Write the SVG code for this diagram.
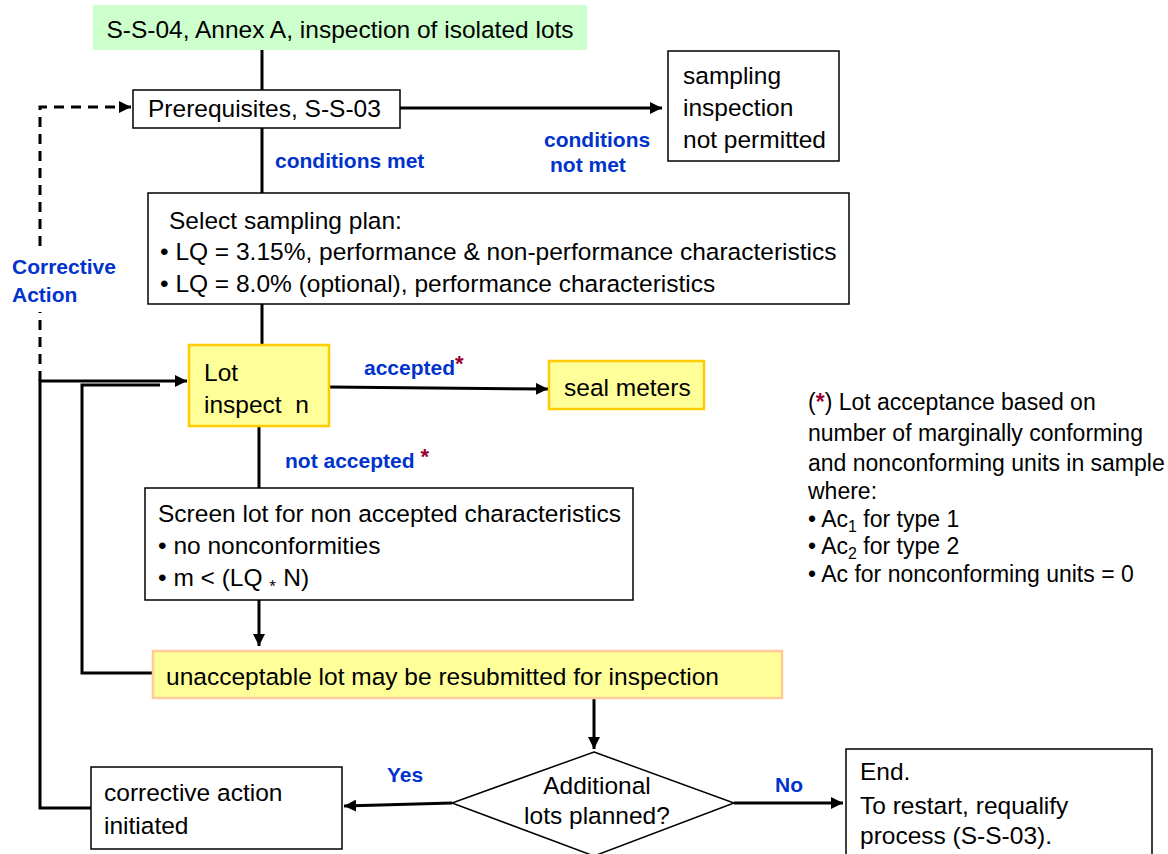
<svg xmlns="http://www.w3.org/2000/svg" width="1168" height="854" viewBox="0 0 1168 854">
<style>
text{font-family:"Liberation Sans",Arial,sans-serif;fill:#000}
.t{font-size:24.5px}
.n{font-size:23px}
.lb{font-size:21px;font-weight:bold;fill:#0033CC}
.red{fill:#990033;font-weight:bold}
.box{fill:#fff;stroke:#000;stroke-width:1.5}
.yel{fill:#FFFF99;stroke:#FFCC00;stroke-width:2.5}
.ln{fill:none;stroke:#000;stroke-width:3}
.ds{fill:none;stroke:#000;stroke-width:3;stroke-dasharray:10,7}
</style>
<defs>
<marker id="ah" viewBox="0 0 10 10" refX="10" refY="5" markerWidth="4" markerHeight="4" orient="auto" markerUnits="strokeWidth">
<path d="M0,0 L10,5 L0,10 z" fill="#000"/>
</marker>
</defs>
<rect width="1168" height="854" fill="#fff"/>

<g id="connectors">
<path class="ln" d="M262,50 V91"/>
<path class="ln" d="M400,108 H662" marker-end="url(#ah)"/>
<path class="ln" d="M262,128 V194"/>
<path class="ln" d="M262,304 V346"/>
<path class="ln" d="M329,387 L548,389" marker-end="url(#ah)"/>
<path class="ln" d="M259,426 V489"/>
<path class="ln" d="M259,600 V646" marker-end="url(#ah)"/>
<path class="ln" d="M594,698 V749" marker-end="url(#ah)"/>
<path class="ln" d="M452,803 L344,806" marker-end="url(#ah)"/>
<path class="ln" d="M734,803 H843" marker-end="url(#ah)"/>
<path class="ln" d="M153,673 H82 V385 H160"/>
<path class="ln" d="M91,808 H40 V381 H187" marker-end="url(#ah)"/>
<path class="ds" d="M40,381 V312"/>
<path class="ds" d="M40,246 V107 H131" marker-end="url(#ah)"/>
<text class="lb" x="275" y="168">conditions met</text>
<text class="lb" x="544" y="147">conditions</text>
<text class="lb" x="550" y="172">not met</text>
<text class="lb" x="12" y="274">Corrective</text>
<text class="lb" x="12" y="302">Action</text>
<text class="lb" x="364" y="375">accepted<tspan class="red" font-size="22" dy="-4">*</tspan></text>
<text class="lb" x="285" y="468">not accepted <tspan class="red" font-size="22" dy="-4">*</tspan></text>
<text class="lb" x="387" y="782">Yes</text>
<text class="lb" x="775" y="792">No</text>
</g>

<g id="title">
<rect x="93" y="5" width="494" height="45" fill="#CCFFCC"/>
<text class="t" x="340" y="38" text-anchor="middle">S-S-04, Annex A, inspection of isolated lots</text>
</g>

<g id="prereq">
<rect class="box" x="133" y="90" width="267" height="38"/>
<text class="t" x="148" y="117">Prerequisites, S-S-03</text>
</g>

<g id="not-permitted">
<rect class="box" x="668" y="51" width="171" height="110"/>
<text class="t" x="683" y="84">sampling</text>
<text class="t" x="683" y="116">inspection</text>
<text class="t" x="683" y="148">not permitted</text>
</g>

<g id="select-plan">
<rect class="box" x="148" y="193" width="701" height="111"/>
<text class="t" x="169" y="229">Select sampling plan:</text>
<text class="t" x="160" y="260">• LQ = 3.15%, performance &amp; non-performance characteristics</text>
<text class="t" x="160" y="292">• LQ = 8.0% (optional), performance characteristics</text>
</g>

<g id="lot-inspect">
<rect class="yel" x="189" y="345" width="140" height="81"/>
<text class="t" x="204" y="381">Lot</text>
<text class="t" x="204" y="413" xml:space="preserve">inspect  n</text>
</g>

<g id="seal-meters">
<rect class="yel" x="549" y="361" width="155" height="48"/>
<text class="t" x="564" y="396">seal meters</text>
</g>

<g id="note">
<text class="n" x="808" y="410">(<tspan class="red">*</tspan>) Lot acceptance based on</text>
<text class="n" x="808" y="441">number of marginally conforming</text>
<text class="n" x="808" y="471">and nonconforming units in sample</text>
<text class="n" x="808" y="499">where:</text>
<text class="n" x="808" y="527">• Ac<tspan font-size="16" dy="5">1</tspan><tspan dy="-5"> for type 1</tspan></text>
<text class="n" x="808" y="554">• Ac<tspan font-size="16" dy="5">2</tspan><tspan dy="-5"> for type 2</tspan></text>
<text class="n" x="808" y="582">• Ac for nonconforming units = 0</text>
</g>

<g id="screen-lot">
<rect class="box" x="145" y="488" width="488" height="112"/>
<text class="t" x="158" y="522">Screen lot for non accepted characteristics</text>
<text class="t" x="158" y="554">• no nonconformities</text>
<text class="t" x="158" y="586">• m &lt; (LQ <tspan font-size="13" dy="-3">⁎</tspan><tspan dy="3"> N)</tspan></text>
</g>

<g id="resubmit">
<rect x="153" y="651" width="629" height="47" fill="#FFFF99" stroke="#FFCC99" stroke-width="2.5"/>
<text class="t" x="166" y="685">unacceptable lot may be resubmitted for inspection</text>
</g>

<g id="decision">
<polygon points="594,752 734,803 594,856 452,803" fill="#fff" stroke="#000" stroke-width="1.5"/>
<text class="t" x="597" y="794" text-anchor="middle">Additional</text>
<text class="t" x="597" y="824" text-anchor="middle">lots planned?</text>
</g>

<g id="corrective">
<rect class="box" x="91" y="767" width="251" height="82"/>
<text class="t" x="104" y="801">corrective action</text>
<text class="t" x="104" y="834">initiated</text>
</g>

<g id="end">
<rect class="box" x="846" y="749" width="306" height="110"/>
<text class="t" x="860" y="780">End.</text>
<text class="t" x="860" y="814">To restart, requalify</text>
<text class="t" x="860" y="844">process (S-S-03).</text>
</g>
</svg>
